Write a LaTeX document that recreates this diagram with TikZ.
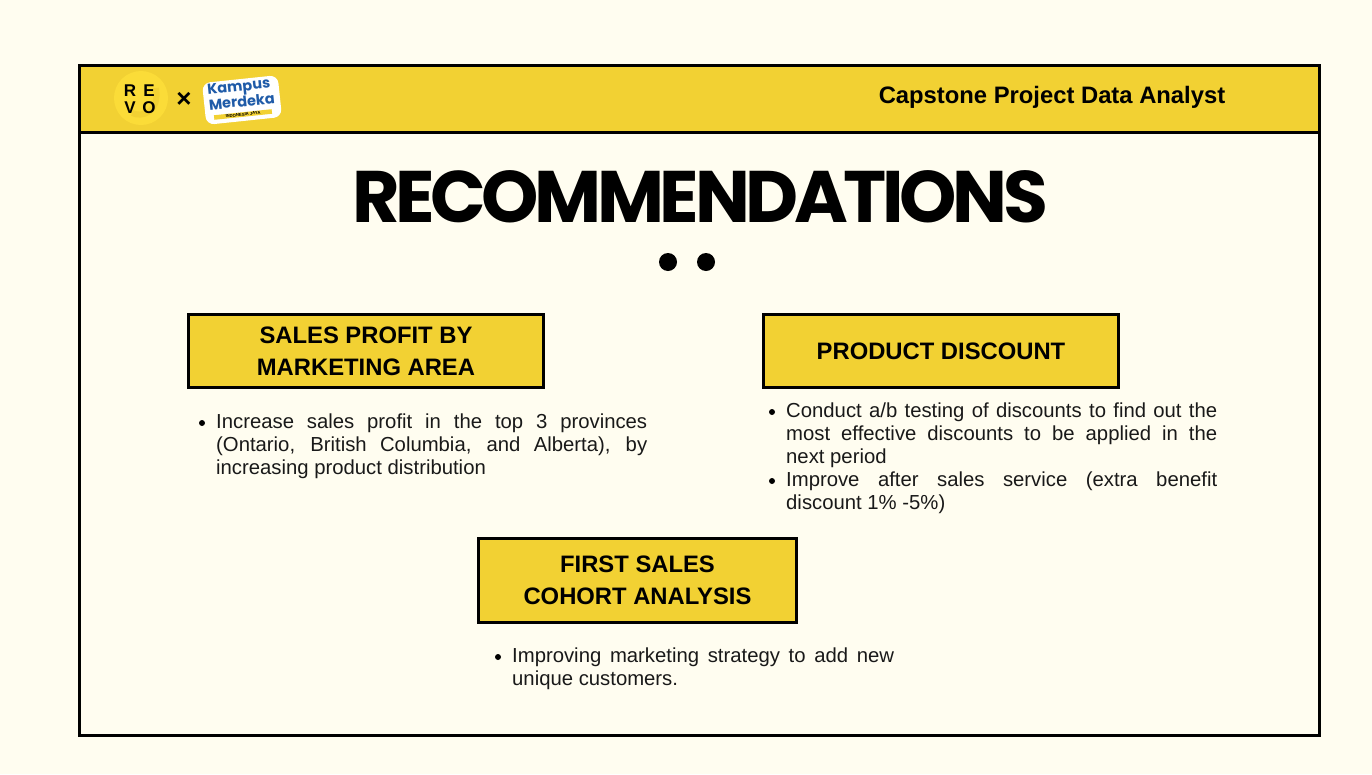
\documentclass[tikz,border=0pt]{standalone}
\usepackage{fontspec}
\setmainfont{Liberation Sans}
\newfontfamily\titlefont{Poppins}
\newfontfamily\tighttitlefont[LetterSpace=-6]{Poppins}
\usetikzlibrary{positioning}
\definecolor{paper}{HTML}{FFFDF0}
\definecolor{bar}{HTML}{F2D133}
\definecolor{disc}{HTML}{FBDC38}
\definecolor{kampus}{HTML}{1F5BA8}
\tikzset{
x=1pt,
y=-1pt,
head/.style={draw=black, line width=3pt, fill=bar, minimum width=354.5pt, minimum height=73pt, inner sep=0pt, align=center, font=\fontsize{23.8}{32}\selectfont\bfseries, text=black},
body/.style={anchor=north west, inner sep=0pt, align=justify, font=\fontsize{20.3}{23}\selectfont, text=black!90},
dot/.style={circle, fill=black, inner sep=0pt, minimum size=6pt},
revo/.style={font=\fontsize{17}{17}\selectfont\bfseries, text=black},
}

\begin{document}
\begin{tikzpicture}
        \path[use as bounding box, fill=paper] (0,0) rectangle (1372,774);
        \draw[line width=3pt, fill=paper] (79.5,65) rectangle (1319.5,735);
        \draw[line width=3pt, fill=bar] (79.5,65) rectangle (1319.5,132.5);

        % logos
        \node[circle, fill=disc, minimum size=54pt, inner sep=0pt] (logo) at (141,98) {};
        \draw[bar, line width=6pt] (156,88) .. controls (160,112) and (142,118) .. (132,113);
        \node[revo] (logoR) at (130,91) {R};
        \node[revo] (logoE) at (149,91) {E};
        \node[revo] (logoV) at (130,108) {V};
        \node[revo] (logoO) at (149,108) {O};
        \node[font=\fontsize{26}{26}\selectfont\bfseries] (times) at (184,100) {×};
        \node[rotate=6, fill=white, rounded corners=8pt, minimum width=76pt, minimum height=42pt, inner sep=0pt] (kampusbg) at (242,100) {};
        \node[rotate=6, font=\titlefont\fontsize{14.5}{12.5}\selectfont\bfseries, text=kampus, align=left, inner sep=0pt] (kampus) at (241,94) {Kampus\\Merdeka};
        \node[rotate=6, fill=bar, font=\fontsize{4.2}{4.4}\selectfont\bfseries, inner sep=0.8pt, minimum width=58pt] (jaya) at (243,114.5) {INDONESIA JAYA};

        \node[font=\fontsize{23.8}{28}\selectfont\bfseries] (project) at (1052,97.5) {Capstone Project Data Analyst};

        % title
        \node[inner sep=0pt] (title) at (700,197) {\tighttitlefont\fontsize{73}{73}\selectfont\bfseries RECOMMENDATIONS};
        \node[circle, fill=black, minimum size=18pt, inner sep=0pt] (dotA) at (668,262) {};
        \node[circle, fill=black, minimum size=18pt, inner sep=0pt] (dotB) at (706,262) {};

        % three topics
        \node[head] (profit) at (366,351) {SALES PROFIT BY\\MARKETING AREA};
        \node[head] (discount) at (941,351) {PRODUCT DISCOUNT};
        \node[head, minimum width=318pt, minimum height=84pt] (cohort) at (637.5,580) {FIRST SALES\\COHORT ANALYSIS};

        \node[dot] (dotP) at (202,423) {};
        \node[body, text width=431pt] (textP) at (216,413.5) {Increase sales profit in the top 3 provinces\linebreak (Ontario, British Columbia, and Alberta), by\linebreak increasing product distribution};

        \node[dot] (dotD) at (772,412) {};
        \node[body, text width=431pt] (textD) at (786,403) {Conduct a/b testing of discounts to find out the\linebreak most effective discounts to be applied in the\linebreak next period};
        \node[dot] (dotI) at (772,481) {};
        \node[body, text width=431pt] (textI) at (786,472) {Improve after sales service (extra benefit\linebreak discount 1\% -5\%)};

        \node[dot] (dotC) at (498,657) {};
        \node[body, text width=382pt] (textC) at (512,647.5) {Improving marketing strategy to add new\linebreak unique customers.};
    \end{tikzpicture}
\end{document}
